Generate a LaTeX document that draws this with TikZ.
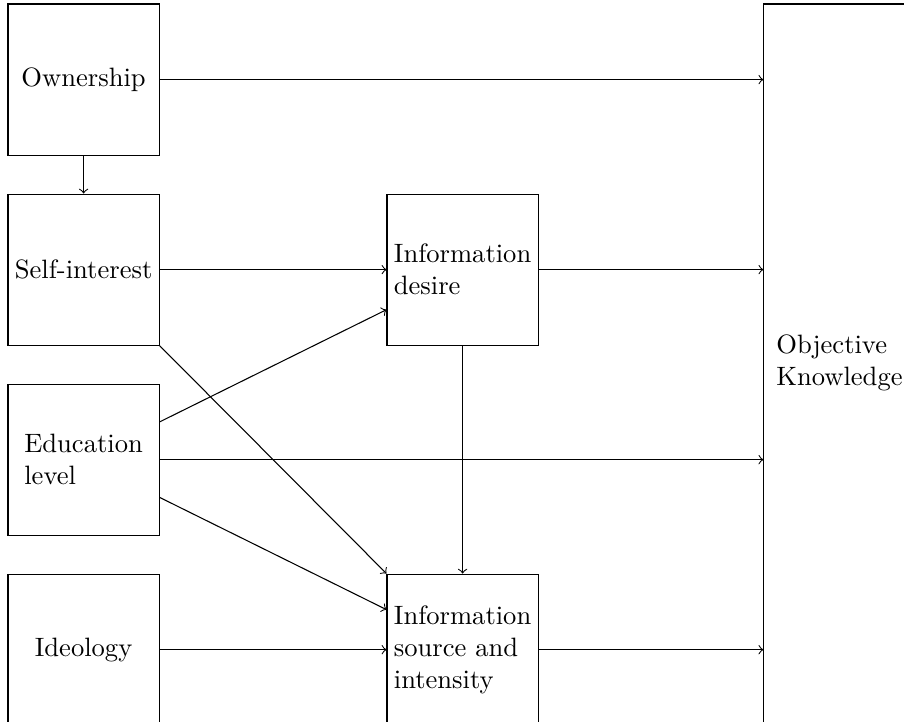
\documentclass[tikz,border=0pt]{standalone}
\usepackage{tikz}
\usetikzlibrary{positioning, calc}
\tikzset{
  box/.style={rectangle, draw, minimum width=2cm, minimum height=2cm,
    inner sep=1pt, align=left},
  tallbox/.style={box, minimum height=9.5cm},
  arrow/.style={->}
}
\begin{document}
\begin{tikzpicture}[node distance=0.5cm]
  % frame of the picture
  \path[use as bounding box, clip] (-1.106,1.053) rectangle (10.854,-8.497);

  % left column
  \node[box] (own) at (0,0) {Ownership};
  \node[box, below=of own] (selfint) {Self-interest};
  \node[box, below=of selfint] (edu) {Education\\level};
  \node[box, below=of edu] (ideo) {Ideology};

  % middle column
  \node[box, right=3cm of selfint] (infodes) {Information\\desire};
  \node[box, right=3cm of ideo] (infosrc) {Information\\source and\\intensity};

  % outcome
  \node[tallbox] (objknow) at (10,-3.75) {Objective\\Knowledge};

  % paths
  \draw[arrow] (own) -- (selfint);
  \draw[arrow] (own.east) -- (own.east -| objknow.west);
  \draw[arrow] (selfint) -- (infodes);
  \draw[arrow] (selfint.south east) -- (infosrc.north west);
  \draw[arrow] ([yshift=0.5cm]edu.east) -- ([yshift=-0.53cm]infodes.west);
  \draw[arrow] ([yshift=-0.5cm]edu.east) -- ([yshift=0.53cm]infosrc.west);
  \draw[arrow] (edu.east) -- (edu.east -| objknow.west);
  \draw[arrow] (ideo) -- (infosrc);
  \draw[arrow] (infodes) -- (infosrc);
  \draw[arrow] (infodes.east) -- (infodes.east -| objknow.west);
  \draw[arrow] (infosrc.east) -- (infosrc.east -| objknow.west);
\end{tikzpicture}
\end{document}
